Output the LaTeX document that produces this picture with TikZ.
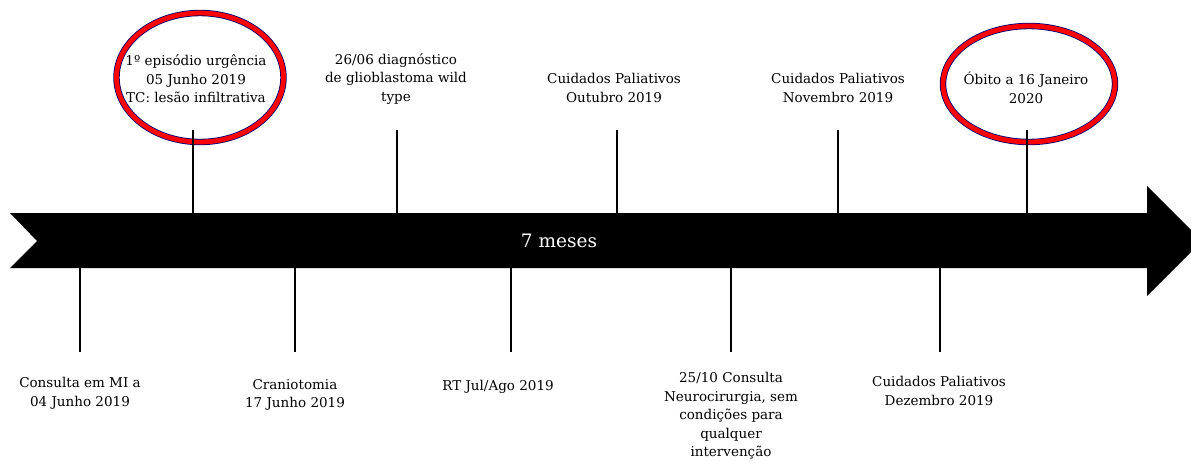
\documentclass[tikz,border=0pt]{standalone}
\usepackage{fontspec}
\setmainfont{DejaVu Serif}
\begin{document}
\begin{tikzpicture}[x=1pt,y=-1pt,
		evento/.style={align=center,inner sep=0pt,font=\fontsize{13.5}{18.5}\selectfont},
		haste/.style={line width=2.8pt},
		anel/.style={draw=blue!45!black,double=red,double distance=4.8pt,line width=0.8pt}]
	\useasboundingbox (0,0) rectangle (1191,461);
	\clip (0,0) rectangle (1191,461);
	% seta do tempo
	\fill (10,213) -- (1147,213) -- (1147,186) -- (1202,241) -- (1147,296) -- (1147,268) -- (10,268) -- (37,241) -- cycle;
	\node[evento,text=white,font=\fontsize{18.5}{22}\selectfont] (meses) at (559,241) {7 meses};
	% aneis vermelhos
	\draw[anel] (200,77.5) ellipse [x radius=83.5pt,y radius=64.5pt];
	\draw[anel] (1029,84) ellipse [x radius=86pt,y radius=58pt];
	% hastes acima e abaixo
	\foreach \x/\n in {193/1,397/2,617/3,838/4,1027/5}
		\draw[haste] (\x,213) coordinate (a\n) -- (\x,130) coordinate (b\n);
	\foreach \x/\n in {80/6,295/7,511/8,731/9,940/10}
		\draw[haste] (\x,268) coordinate (a\n) -- (\x,352) coordinate (b\n);
	% eventos acima
	\node[evento] (ev1) at (196,79) {1º episódio urgência\\05 Junho 2019\\TC: lesão infiltrativa};
	\node[evento] (ev2) at (396,79) {26/06 diagnóstico\\de glioblastoma wild\\type};
	\node[evento] (ev3) at (614,88) {Cuidados Paliativos\\Outubro 2019};
	\node[evento] (ev4) at (838,88) {Cuidados Paliativos\\Novembro 2019};
	\node[evento] (ev5) at (1026,88) {Óbito a 16 Janeiro\\2020};
	% eventos abaixo
	\node[evento] (ev6) at (80,393.5) {Consulta em MI a\\04 Junho 2019};
	\node[evento] (ev7) at (295,395) {Craniotomia\\17 Junho 2019};
	\node[evento] (ev8) at (498,387) {RT Jul/Ago 2019};
	\node[evento] (ev9) at (731,416) {25/10 Consulta\\Neurocirurgia, sem\\condições para\\qualquer\\intervenção};
	\node[evento] (ev10) at (939,391) {Cuidados Paliativos\\Dezembro 2019};
\end{tikzpicture}
\end{document}
